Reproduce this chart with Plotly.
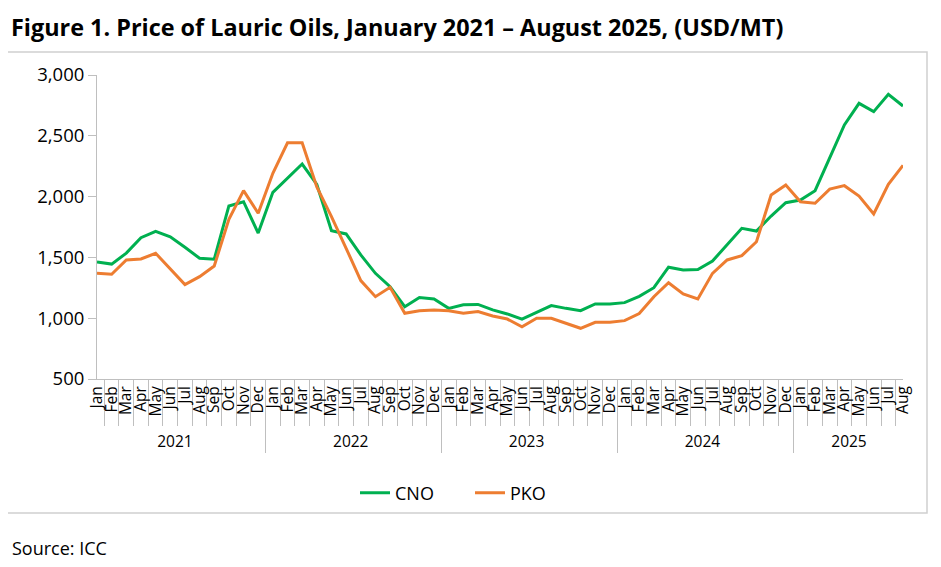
import plotly.graph_objects as go

years = ["2021"] * 12 + ["2022"] * 12 + ["2023"] * 12 + ["2024"] * 12 + ["2025"] * 8
month_names = ["Jan", "Feb", "Mar", "Apr", "May", "Jun", "Jul", "Aug", "Sep", "Oct", "Nov", "Dec"]
months = month_names * 4 + month_names[:8]

cno = [1462, 1445, 1535, 1662, 1715, 1670, 1583, 1493, 1485, 1923, 1958, 1700,
       2035, 2150, 2268, 2100, 1720, 1693, 1520, 1369, 1259, 1095, 1170, 1158,
       1081, 1110, 1113, 1068, 1035, 993, 1049, 1104, 1081, 1062, 1117, 1117,
       1128, 1180, 1251, 1419, 1396, 1400, 1470, 1602, 1739, 1717, 1840, 1950,
       1972, 2049, 2315, 2589, 2767, 2699, 2841, 2745]
pko = [1369, 1361, 1479, 1487, 1534, 1405, 1276, 1342, 1429, 1813, 2049, 1863,
       2192, 2443, 2443, 2080, 1835, 1575, 1309, 1177, 1254, 1040, 1062, 1067,
       1062, 1040, 1054, 1018, 993, 930, 999, 999, 958, 917, 966, 966,
       980, 1038, 1177, 1292, 1199, 1158, 1369, 1479, 1514, 1629, 2013, 2095,
       1958, 1945, 2062, 2090, 2005, 1857, 2101, 2257]

y_ticks = [500, 1000, 1500, 2000, 2500, 3000]
y_labels = ["500", "1,000", "1,500", "2,000", "2,500", "3,000"]

FONT = "Open Sans"
OFF = 8  # page body margin
W, H = 941 - OFF, 567 - OFF
# plot area in page pixel coords
PL, PR, PT, PB = 97, 903, 75, 379
L, R, T, B = PL - OFF, PR - OFF, PT - OFF, PB - OFF

fig = go.Figure()
fig.add_trace(go.Scatter(x=[years, months], y=cno, name="CNO", mode="lines",
                         line=dict(color="#00B050", width=3)))
fig.add_trace(go.Scatter(x=[years, months], y=pko, name="PKO", mode="lines",
                         line=dict(color="#ED7D31", width=3)))

def px_to_paper_x(px):
    return (px - PL) / (PR - PL)

def px_to_paper_y(py):
    return (PB - py) / (PB - PT)

fig.update_layout(
    width=W, height=H,
    margin=dict(l=L, r=W - R, t=T, b=H - B, autoexpand=False),
    paper_bgcolor="white", plot_bgcolor="white",
    font=dict(family=FONT, color="#000000"),
    title=dict(text="<b>Figure 1. Price of Lauric Oils, January 2021 – August 2025, (USD/MT)</b>",
               x=(11 - OFF) / W, xanchor="left", xref="container",
               y=1 - (28 - OFF) / H, yanchor="middle", yref="container",
               font=dict(family=FONT, size=23.4, color="#000000")),
    xaxis=dict(type="multicategory", showline=True, linecolor="#BFBFBF", linewidth=1,
               ticks="outside", tickson="boundaries", ticklen=46, tickcolor="#BFBFBF",
               tickangle=-90, tickfont=dict(size=15.5, family=FONT, color="#000000"),
               nticks=100, automargin=False,
               showdividers=True, dividercolor="#BFBFBF", dividerwidth=1,
               showgrid=False, fixedrange=True),
    yaxis=dict(range=[500, 3000], tickvals=y_ticks, ticktext=y_labels,
               showline=True, linecolor="#BFBFBF", linewidth=1,
               ticks="outside", ticklen=8, tickcolor="#BFBFBF", automargin=False,
               tickfont=dict(size=18.5, family=FONT, color="#000000"), showgrid=False, zeroline=False),
    legend=dict(orientation="h", x=px_to_paper_x(355), xanchor="left",
                y=px_to_paper_y(493), yanchor="middle",
                entrywidth=70, entrywidthmode="pixels",
                font=dict(size=18, family=FONT, color="#000000"), traceorder="normal"),
    showlegend=True,
)

fig.add_shape(type="rect", xref="paper", yref="paper",
              x0=px_to_paper_x(7), x1=px_to_paper_x(927),
              y0=px_to_paper_y(513), y1=px_to_paper_y(52),
              line=dict(color="#D0D0D0", width=1.5), fillcolor="rgba(0,0,0,0)", layer="below")

fig.add_annotation(text="Source: ICC", xref="paper", yref="paper",
                   x=px_to_paper_x(10), y=px_to_paper_y(548), xanchor="left", yanchor="middle",
                   showarrow=False, font=dict(size=18, family=FONT, color="#000000"))

fig.write_html("out.html")
